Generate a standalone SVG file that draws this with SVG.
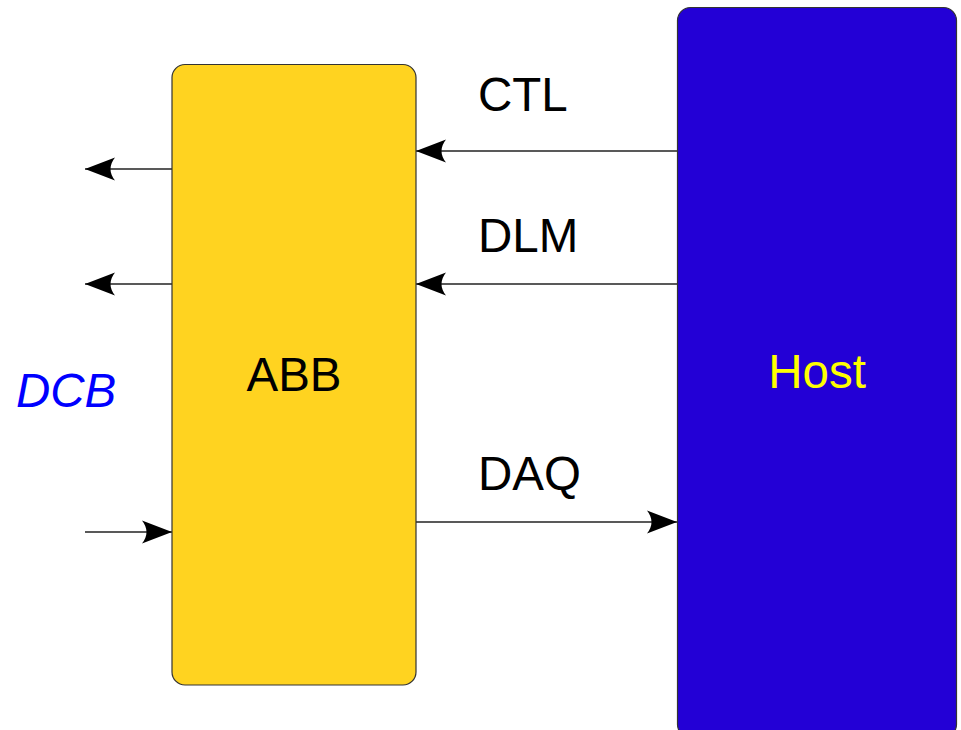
<svg xmlns="http://www.w3.org/2000/svg" width="961" height="730" viewBox="0 0 961 730">
  <defs>
    <marker id="head" markerUnits="userSpaceOnUse" markerWidth="32" markerHeight="26" refX="30" refY="12" orient="auto" overflow="visible">
      <path d="M30,12 L0,0.5 Q9,12 0,23.5 Z" fill="#000"/>
    </marker>
    <style>
      .lbl { font-family: "Liberation Sans", Arial, sans-serif; font-size: 47.5px; fill: #000; }
      .wire { stroke: #222; stroke-width: 1.5; fill: none; marker-end: url(#head); }
      .box { stroke: #333; stroke-width: 1.2; }
    </style>
  </defs>
  <rect width="961" height="730" fill="#fff"/>

  <g id="connectors">
    <line class="wire" x1="677" y1="151" x2="416" y2="151"/>
    <line class="wire" x1="677" y1="284" x2="416" y2="284"/>
    <line class="wire" x1="416" y1="522" x2="677" y2="522"/>
    <line class="wire" x1="172" y1="169" x2="85" y2="169"/>
    <line class="wire" x1="172" y1="284" x2="85" y2="284"/>
    <line class="wire" x1="85" y1="532" x2="172" y2="532"/>
  </g>

  <g id="abb">
    <rect class="box" x="172" y="64.5" width="244" height="620.5" rx="13" fill="#FFD320"/>
    <text class="lbl" x="294" y="391" text-anchor="middle">ABB</text>
  </g>

  <g id="host">
    <rect class="box" x="677.5" y="7.5" width="279" height="730" rx="13" fill="#2300D6"/>
    <text class="lbl" x="817" y="388" text-anchor="middle" style="fill:#FFFF00">Host</text>
  </g>

  <g id="labels">
    <text class="lbl" x="478" y="111">CTL</text>
    <text class="lbl" x="478" y="252">DLM</text>
    <text class="lbl" x="478" y="490">DAQ</text>
    <text class="lbl" x="16" y="407" style="fill:#0000FF;font-style:italic">DCB</text>
  </g>
</svg>
